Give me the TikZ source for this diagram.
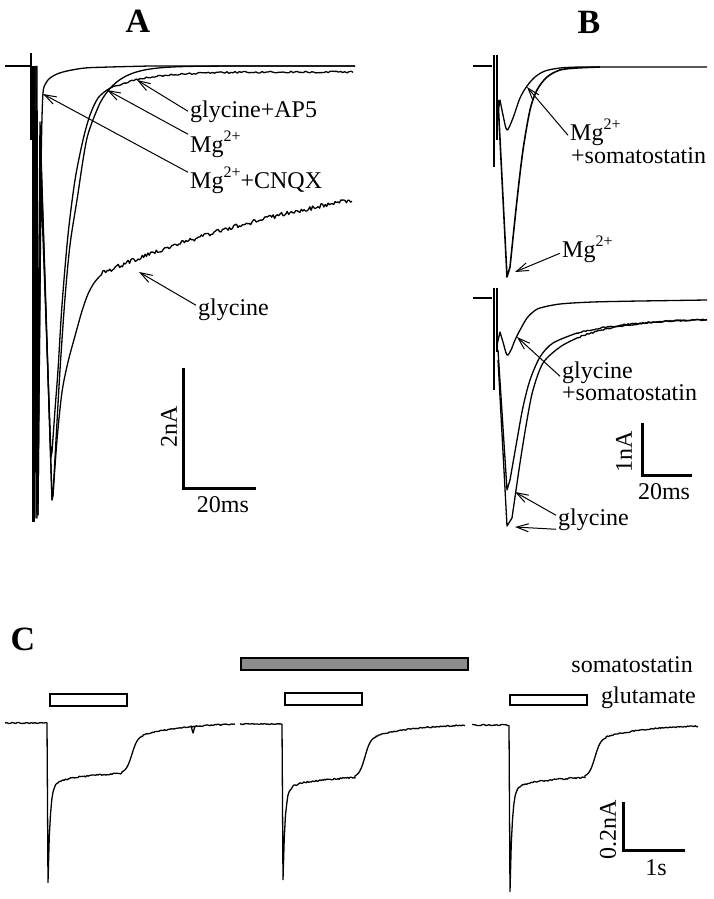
\documentclass[tikz,border=0pt]{standalone}
\usepackage{fontspec}
\setmainfont{Liberation Serif}
\usetikzlibrary{arrows.meta}
\newcommand{\supr}[1]{\raisebox{0.42em}{\fontsize{16}{16}\selectfont #1}}
% response in C: start, base, onset, peak, plateau, offset, end
\newcommand{\gluresp}[7]{%
  \draw[trace] plot[domain=#1:#3,samples=25] (\x,{#2+0.6*rand})
    -- plot[domain=#3+1:#6,samples=60] (\x,{#5-0.08*(\x-#3-1)+(#4-#5-10)*exp(-(\x-#3-1)/2)+10*exp(-(\x-#3-1)/10)+0.8*rand})
    -- plot[domain=#6:#6+21,samples=22] (\x,{#5-0.08*(#6-#3-1)-(#5-0.08*(#6-#3-1)-#2-12)/(1+exp(-(\x-#6-10)/3))})
    -- plot[domain=#6+21:#7,samples=70] (\x,{#2+12*exp(-(\x-#6-21)/40)+0.6*rand});}
\tikzset{
  trace/.style={line width=1.3pt,line join=round},
  bar/.style={line width=3pt},
  lbl/.style={font=\fontsize{24}{26}\selectfont,inner sep=2pt,anchor=base west},
  ptr/.style={line width=1pt,-{Straight Barb[length=12pt,width=8pt]}},
  panel/.style={font=\fontsize{34}{36}\selectfont\bfseries},
  pulse/.style={draw,line width=1.4pt,fill=white},
}
\begin{document}
\begin{tikzpicture}[x=1pt,y=-1pt]
\useasboundingbox (0,0) rectangle (713,899);
\pgfmathsetseed{11}
% A
\node[panel] (tA) at (138,21) {A};
\draw[trace] (5,66) -- (30,66);
\draw[trace] (31,53) -- (31,140);
\draw[line width=3pt] (33,66) -- (33,522);
\draw[trace] (35,66) -- (36,518) -- plot[smooth] coordinates {(38,420) (40,250) (41.5,140) (43,93) (46,83) (50,78) (57,74) (67,71) (85,68) (110,67) (150,66)} -- (355,66);
\draw[trace] (36,66) -- (37,518) -- (40,122) -- (52,500) -- plot[smooth] coordinates {(53,495) (56,440) (60,370) (65,298) (70,245) (77,200) (87,138) (100,103)}
  -- plot[domain=100:355,samples=80] (\x,{66+37*exp(-(\x-100)/20)});
\draw[trace] (36,66) -- (38,515) -- (41,183) -- (51,457) -- plot[smooth] coordinates {(52,452) (55,410) (58,370) (62,305) (68,235) (75,180) (83,140) (90,115) (98,98) (107,90)}
  -- plot[domain=107:353,samples=120] (\x,{72+18*exp(-(\x-107)/35)+0.9*rand});
\draw[trace] (37,66) -- (38,515) -- (41,160) -- (52,500) -- plot[smooth] coordinates {(53,495) (57,440) (62,392) (68,362) (75,336) (82,311) (88,294) (94,283) (100,276)}
  -- plot[domain=100:352,samples=180] (\x,{143.5+130.5*exp(-(\x-100)/300)+2.2*rand});
\node[lbl] (lAP5) at (188,117) {glycine+AP5};
\node[lbl] (lMg) at (188,152) {Mg\supr{2+}};
\node[lbl] (lCNQX) at (188,188) {Mg\supr{2+}+CNQX};
\node[lbl] (lGly) at (196,315) {glycine};
\coordinate (pAP5) at (137,80);
\coordinate (pMg) at (107,90);
\coordinate (pCNQX) at (43,94);
\coordinate (pGly) at (139,272);
\draw[ptr] (lAP5.west) -- (pAP5);
\draw[ptr] ([yshift=10pt]lMg.west) -- (pMg);
\draw[ptr] ([yshift=8pt]lCNQX.west) -- (pCNQX);
\draw[ptr] ([yshift=4pt]lGly.west) -- (pGly);
\draw[bar] (183,368) -- (183,488) -- (256,488);
\node[lbl,anchor=center,rotate=90] (sA1) at (169,427) {2nA};
\node[lbl,anchor=center] (sA2) at (223,505) {20ms};
% B
\node[panel] (tB) at (589,22) {B};
\draw[trace] (473,66) -- (492,66);
\draw[line width=1.6pt] (494,55) -- (494,167);
\draw[line width=1.2pt] (497,55) -- (497,140);
\draw[trace] (497,118) -- plot[smooth] coordinates {(500,100) (503,115) (507,130) (513,118) (520,98) (527,86) (535,77) (545,71) (560,68) (580,67) (600,67)} -- (707,67);
\draw[line width=1.6pt,line join=round] (498,100) -- (507,277) -- plot[smooth] coordinates {(510,267) (517,200) (523,150) (530,110) (537,90) (547,77) (560,70) (577,68) (600,67)};
\node[lbl] (lMgS) at (568,140) {Mg\supr{2+}};
\node[lbl] (lMgS2) at (569,163) {+somatostatin};
\node[lbl] (lMgB) at (560,257) {Mg\supr{2+}};
\coordinate (pMgS) at (527,87);
\coordinate (pMgB) at (515,272);
\draw[ptr] ([yshift=-3pt]lMgS.west) -- (pMgS);
\draw[ptr] ([yshift=-4pt]lMgB.west) -- (pMgB);
\draw[trace] (473,298) -- (492,298);
\draw[line width=1.6pt] (494,288) -- (494,390);
\draw[line width=1.2pt] (497,288) -- (497,352);
\draw[trace] (497,345) -- plot[smooth] coordinates {(500,332) (503,342) (507,355) (511,350) (515,340) (520,330) (527,318) (533,312) (540,308) (560,304) (593,302) (640,301)} -- (707,300);
\draw[trace] (498,350) -- (507,490) -- plot[smooth] coordinates {(510,480) (517,440) (523,407) (530,380) (540,357) (553,343) (577,333)}
  -- plot[domain=577:707,samples=90] (\x,{318+15*exp(-(\x-577)/60)+0.7*rand});
\draw[trace] (498,360) -- (507,526) -- plot[smooth] coordinates {(512,518) (520,463) (527,420) (533,390) (543,363) (560,347) (577,338)}
  -- plot[domain=577:707,samples=90] (\x,{318+20*exp(-(\x-577)/50)+0.7*rand});
\node[lbl] (lGS) at (560,378) {glycine};
\node[lbl] (lGS2) at (560,400) {+somatostatin};
\node[lbl] (lGB) at (556,525) {glycine};
\coordinate (pGS) at (517,337);
\coordinate (pGB1) at (515,492);
\coordinate (pGB2) at (515,527);
\draw[ptr] ([yshift=-4pt]lGS.west) -- (pGS);
\draw[ptr] ([yshift=4pt]lGB.west) -- (pGB1);
\draw[ptr] ([yshift=-10pt]lGB.west) -- (pGB2);
\draw[bar] (642,423) -- (642,475) -- (692,475);
\node[lbl,anchor=center,rotate=90] (sB1) at (624,452) {1nA};
\node[lbl,anchor=center] (sB2) at (664,492) {20ms};
% C
\node[panel] (tC) at (23,639) {C};
\draw[line width=1.3pt,fill=black!45] (241,658) rectangle (468,670);
\draw[pulse] (50,694) rectangle (127,706);
\draw[pulse] (285,693) rectangle (362,705);
\draw[pulse] (510,695) rectangle (587,705);
\node[lbl,anchor=base east] (lSom) at (695,672) {somatostatin};
\node[lbl,anchor=base east] (lGlu) at (698,703) {glutamate};
\gluresp{5}{723}{47}{883}{779}{122}{235}
\draw[trace] (191,726) -- (193,733) -- (195,726);
\gluresp{240}{724}{282}{880}{783}{355}{465}
\gluresp{472}{725}{509}{892}{783}{585}{698}
\draw[bar] (623,802) -- (623,850) -- (685,850);
\node[lbl,anchor=center,rotate=90] (sC1) at (608,830) {0.2nA};
\node[lbl,anchor=center] (sC2) at (656,868) {1s};
\end{tikzpicture}
\end{document}
